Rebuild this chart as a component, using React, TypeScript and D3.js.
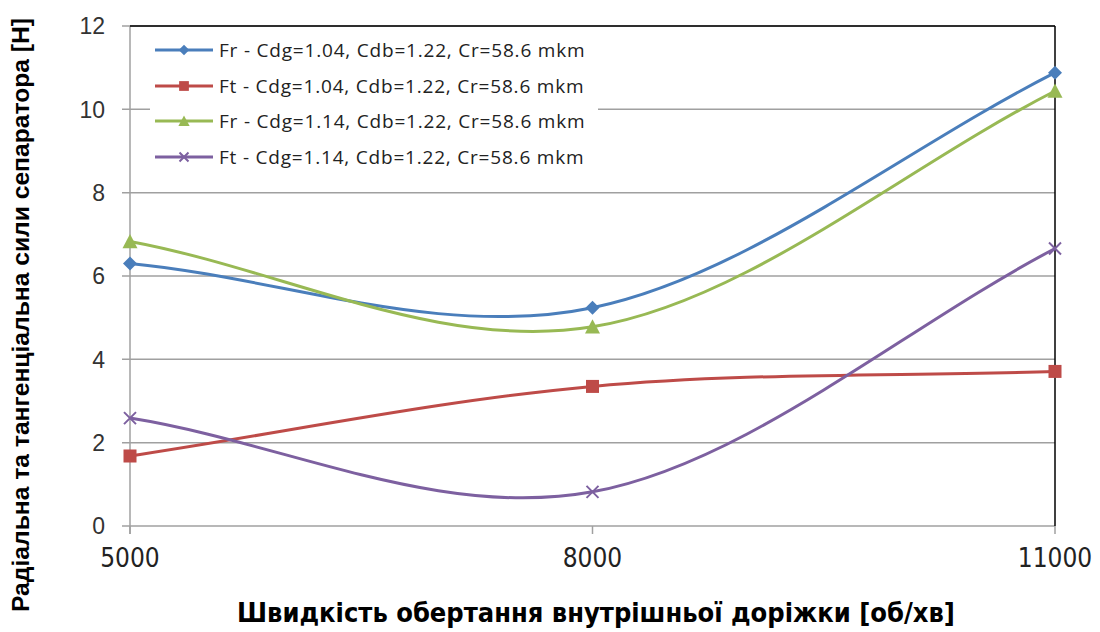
import React from "react";
import * as d3 from "d3";

const speeds = [5000, 8000, 11000];
const frCdg104 = [6.3, 5.24, 10.88];
const ftCdg104 = [1.68, 3.35, 3.71];
const frCdg114 = [6.83, 4.78, 10.44];
const ftCdg114 = [2.59, 0.82, 6.66];
const yTicks = [0, 2, 4, 6, 8, 10, 12];
const seriesLabels = [
  "Fr - Cdg=1.04, Cdb=1.22, Cr=58.6 mkm",
  "Ft - Cdg=1.04, Cdb=1.22, Cr=58.6 mkm",
  "Fr - Cdg=1.14, Cdb=1.22, Cr=58.6 mkm",
  "Ft - Cdg=1.14, Cdb=1.22, Cr=58.6 mkm",
];
const xTitle = "Швидкість обертання внутрішньої доріжки [об/хв]";
const yTitle = "Радіальна та тангенціальна сили сепаратора [Н]";

const W = 1100, H = 632;
const L = 130, R = 1055, T = 26, B = 526;

const series = [
  { values: frCdg104, color: "#4A7EBB", marker: "diamond" },
  { values: ftCdg104, color: "#BE4B48", marker: "square" },
  { values: frCdg114, color: "#98B954", marker: "triangle" },
  { values: ftCdg114, color: "#7D60A0", marker: "x" },
];

const x = d3.scaleLinear().domain([5000, 11000]).range([L, R]);
const y = d3.scaleLinear().domain([0, 12]).range([B, T]);

function smoothPath(pts: [number, number][]) {
  const p = d3.path();
  const n = pts.length;
  p.moveTo(pts[0][0], pts[0][1]);
  for (let i = 0; i < n - 1; i++) {
    const p1 = pts[i], p2 = pts[i + 1];
    const p0: [number, number] = i === 0 ? [2 * p1[0] - p2[0], 2 * p1[1] - p2[1]] : pts[i - 1];
    const p3: [number, number] = i + 2 < n ? pts[i + 2] : [2 * p2[0] - p1[0], 2 * p2[1] - p1[1]];
    const c1x = p1[0] + (p2[0] - p0[0]) / 6, c1y = p1[1] + (p2[1] - p0[1]) / 6;
    const c2x = p2[0] - (p3[0] - p1[0]) / 6, c2y = p2[1] - (p3[1] - p1[1]) / 6;
    p.bezierCurveTo(c1x, c1y, c2x, c2y, p2[0], p2[1]);
  }
  return p.toString();
}

function Marker({ type, cx, cy, color, s = 1 }: { type: string; cx: number; cy: number; color: string; s?: number }) {
  if (type === "diamond") {
    const r = 7 * s;
    return <path d={`M${cx},${cy - r}L${cx + r},${cy}L${cx},${cy + r}L${cx - r},${cy}Z`} fill={color} />;
  }
  if (type === "square") {
    const r = 6.5 * s;
    return <rect x={cx - r} y={cy - r} width={2 * r} height={2 * r} fill={color} />;
  }
  if (type === "triangle") {
    const r = 7.5 * s;
    return <path d={`M${cx},${cy - r}L${cx + r},${cy + r * 0.9}L${cx - r},${cy + r * 0.9}Z`} fill={color} />;
  }
  const r = 6 * s;
  return (
    <path d={`M${cx - r},${cy - r}L${cx + r},${cy + r}M${cx - r},${cy + r}L${cx + r},${cy - r}`} stroke={color} strokeWidth={2} fill="none" />
  );
}

export default function App() {
  const grid = "#A0A0A0";
  const legendY = [50, 86, 121, 157];
  return (
    <svg width={W} height={H} style={{ position: "absolute", left: 0, top: 0, background: "#fff" }} fontFamily="'Liberation Sans', Arial, sans-serif">
      {/* gridlines */}
      {yTicks.map((t) => (
        <line key={t} x1={L - 8} x2={R} y1={y(t)} y2={y(t)} stroke={grid} strokeWidth={1.5} />
      ))}
      {/* axes */}
      <line x1={L} x2={L} y1={T} y2={B + 8} stroke={grid} strokeWidth={1.5} />
      {speeds.map((s) => (
        <line key={s} x1={x(s)} x2={x(s)} y1={B} y2={B + 8} stroke={grid} strokeWidth={1.5} />
      ))}
      <line x1={L} x2={R} y1={T} y2={T} stroke="#000" strokeWidth={1.5} />
      <line x1={R} x2={R} y1={T} y2={B} stroke="#000" strokeWidth={1.5} />
      {/* y tick labels */}
      {yTicks.map((t) => (
        <text key={t} x={105} y={y(t)} dy="0.36em" textAnchor="end" fontSize={23} fill="#333">{t}</text>
      ))}
      {/* x tick labels */}
      {speeds.map((s) => (
        <text key={s} x={x(s)} y={567} textAnchor="middle" fontSize={26} fill="#222" fontFamily="'Liberation Sans Narrow', 'DejaVu Sans Condensed', sans-serif">{s}</text>
      ))}
      {/* series */}
      {series.map((se, i) => {
        const pts = se.values.map((v, j) => [x(speeds[j]), y(v)] as [number, number]);
        return (
          <g key={i}>
            <path d={smoothPath(pts)} fill="none" stroke={se.color} strokeWidth={3} />
            {pts.map((p, j) => (
              <Marker key={j} type={se.marker} cx={p[0]} cy={p[1]} color={se.color} />
            ))}
          </g>
        );
      })}
      {/* legend */}
      <rect x={150} y={33} width={448} height={140} fill="#fff" />
      {series.map((se, i) => (
        <g key={i}>
          <line x1={155} x2={213} y1={legendY[i]} y2={legendY[i]} stroke={se.color} strokeWidth={3} />
          <Marker type={se.marker} cx={184} cy={legendY[i]} color={se.color} s={0.75} />
          <text x={219} y={legendY[i]} dy="0.35em" fontSize={19} letterSpacing={0.8} fill="#222" fontFamily="'Open Sans', sans-serif">{seriesLabels[i]}</text>
        </g>
      ))}
      {/* axis titles */}
      <text x={596} y={622} textAnchor="middle" fontSize={27} fontWeight="bold" fill="#000" fontFamily="'Liberation Sans Narrow', 'DejaVu Sans Condensed', sans-serif">{xTitle}</text>
      <text transform={`translate(29,315) rotate(-90)`} textAnchor="middle" fontSize={24} fontWeight="bold" fill="#000" textLength={594} lengthAdjust="spacingAndGlyphs">{yTitle}</text>
    </svg>
  );
}
